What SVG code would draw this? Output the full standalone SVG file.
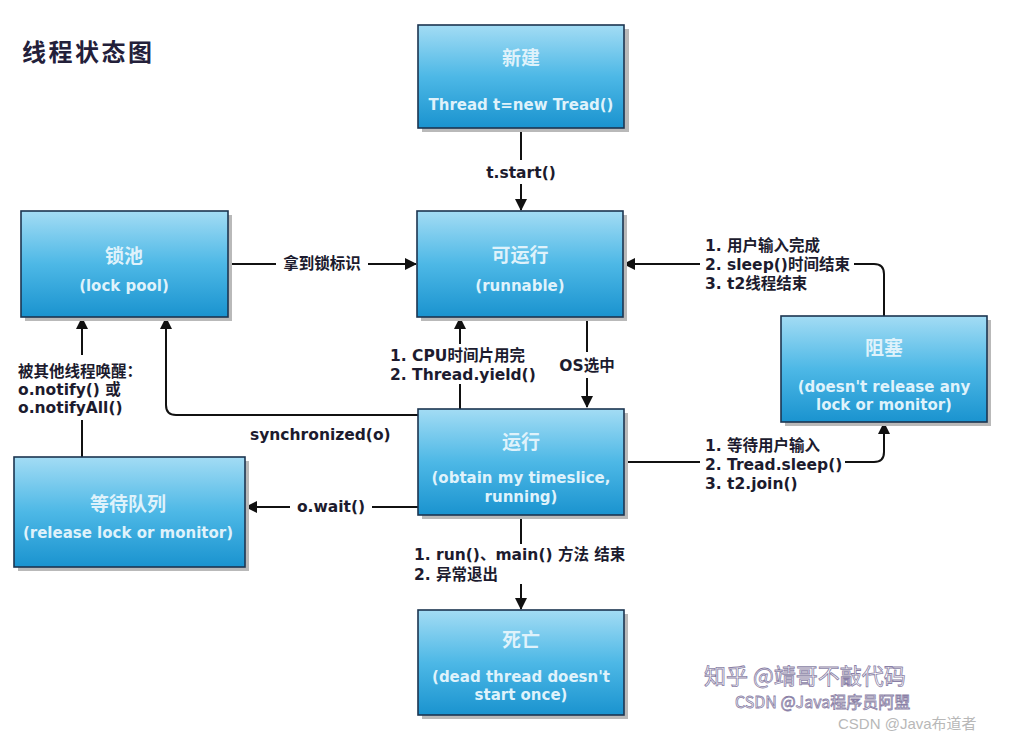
<svg xmlns="http://www.w3.org/2000/svg" width="1010" height="736" viewBox="0 0 1010 736">
<defs>
<linearGradient id="g" x1="0" y1="0" x2="0" y2="1">
<stop offset="0" stop-color="#a3dcf4"/>
<stop offset="0.5" stop-color="#4db8e6"/>
<stop offset="1" stop-color="#1a93cf"/>
</linearGradient>
<marker id="ah" viewBox="0 0 12 12" refX="11" refY="6" markerWidth="12" markerHeight="12" markerUnits="userSpaceOnUse" orient="auto">
<path d="M0,0 L12,6 L0,12 Z" fill="#111"/>
</marker>
</defs>
<style>
.box{fill:url(#g);stroke:#1c3550;stroke-width:1.6}
.sh{fill:#b9b9b9}
.nt{font-family:"DejaVu Sans","Noto Sans CJK SC",sans-serif;font-weight:bold;font-size:15px;fill:#dff2fb;text-anchor:middle}
.tt{font-size:19px}
.lb{font-family:"DejaVu Sans","Noto Sans CJK SC",sans-serif;font-weight:bold;font-size:15.5px;fill:#1c1b2e}
.ln{fill:none;stroke:#111;stroke-width:2}
.wm{font-family:"Noto Sans CJK SC",sans-serif;fill:none;stroke:#8a7fa6;stroke-width:0.8}
</style>
<rect width="1010" height="736" fill="#ffffff"/>
<text x="22" y="61" style="font-family:'Noto Sans CJK SC',sans-serif;font-weight:bold;font-size:24px;letter-spacing:2.5px;fill:#23203a">线程状态图</text>

<g id="connectors">
<!-- new -> runnable -->
<line class="ln" x1="521" y1="129" x2="521" y2="160"/>
<line class="ln" x1="521" y1="184" x2="521" y2="210" marker-end="url(#ah)"/>
<text class="lb" x="521" y="178" text-anchor="middle">t.start()</text>
<!-- lock pool -> runnable -->
<line class="ln" x1="229" y1="264" x2="276" y2="264"/>
<line class="ln" x1="368" y1="264" x2="416" y2="264" marker-end="url(#ah)"/>
<text class="lb" x="322" y="269" text-anchor="middle">拿到锁标识</text>
<!-- runnable -> running -->
<line class="ln" x1="587" y1="318" x2="587" y2="352"/>
<line class="ln" x1="587" y1="378" x2="587" y2="407" marker-end="url(#ah)"/>
<text class="lb" x="587" y="371" text-anchor="middle">OS选中</text>
<!-- running -> runnable -->
<line class="ln" x1="460" y1="409" x2="460" y2="384"/>
<line class="ln" x1="460" y1="344" x2="460" y2="318" marker-end="url(#ah)"/>
<text class="lb" x="390" y="361">1. CPU时间片用完</text>
<text class="lb" x="390" y="380">2. Thread.yield()</text>
<!-- running -> lock pool -->
<path class="ln" d="M418,415 L176,415 Q166,415 166,405 L166,318" marker-end="url(#ah)"/>
<text class="lb" x="250" y="440">synchronized(o)</text>
<!-- waiting -> lock pool -->
<line class="ln" x1="82" y1="457" x2="82" y2="420"/>
<line class="ln" x1="82" y1="355" x2="82" y2="318" marker-end="url(#ah)"/>
<text class="lb" x="18" y="377">被其他线程唤醒：</text>
<text class="lb" x="18" y="395">o.notify() 或</text>
<text class="lb" x="18" y="413">o.notifyAll()</text>
<!-- running -> waiting -->
<line class="ln" x1="418" y1="507" x2="372" y2="507"/>
<line class="ln" x1="290" y1="507" x2="246" y2="507" marker-end="url(#ah)"/>
<text class="lb" x="331" y="512" text-anchor="middle">o.wait()</text>
<!-- running -> blocked -->
<line class="ln" x1="625" y1="462" x2="700" y2="462"/>
<path class="ln" d="M845,462 L874,462 Q884,462 884,452 L884,423" marker-end="url(#ah)"/>
<text class="lb" x="705" y="451">1. 等待用户输入</text>
<text class="lb" x="705" y="470">2. Tread.sleep()</text>
<text class="lb" x="705" y="489">3. t2.join()</text>
<!-- blocked -> runnable -->
<path class="ln" d="M884,316 L884,274 Q884,264 874,264 L854,264"/>
<line class="ln" x1="700" y1="264" x2="624" y2="264" marker-end="url(#ah)"/>
<text class="lb" x="705" y="251">1. 用户输入完成</text>
<text class="lb" x="705" y="270">2. sleep()时间结束</text>
<text class="lb" x="705" y="289">3. t2线程结束</text>
<!-- running -> dead -->
<line class="ln" x1="521" y1="516" x2="521" y2="544"/>
<line class="ln" x1="521" y1="584" x2="521" y2="609" marker-end="url(#ah)"/>
<text class="lb" x="414" y="560">1. run()、main() 方法 结束</text>
<text class="lb" x="414" y="580">2. 异常退出</text>
</g>

<g id="node-new">
<rect class="sh" x="422" y="29" width="207" height="103"/>
<rect class="box" x="418" y="25" width="206" height="103"/>
<text class="nt tt" x="521" y="65">新建</text>
<text class="nt" x="521" y="110">Thread t=new Tread()</text>
</g>
<g id="node-lockpool">
<rect class="sh" x="25" y="215" width="207" height="106"/>
<rect class="box" x="21" y="211" width="207" height="106"/>
<text class="nt tt" x="124" y="263">锁池</text>
<text class="nt" x="124" y="291">(lock pool)</text>
</g>
<g id="node-runnable">
<rect class="sh" x="421" y="215" width="206" height="106"/>
<rect class="box" x="417" y="211" width="206" height="106"/>
<text class="nt tt" x="520" y="262">可运行</text>
<text class="nt" x="520" y="291">(runnable)</text>
</g>
<g id="node-blocked">
<rect class="sh" x="785" y="320" width="206" height="106"/>
<rect class="box" x="781" y="316" width="206" height="106"/>
<text class="nt tt" x="884" y="355">阻塞</text>
<text class="nt" x="884" y="392">(doesn't release any</text>
<text class="nt" x="884" y="410">lock or monitor)</text>
</g>
<g id="node-running">
<rect class="sh" x="422" y="413" width="206" height="106"/>
<rect class="box" x="418" y="409" width="206" height="106"/>
<text class="nt tt" x="521" y="449">运行</text>
<text class="nt" x="521" y="483">(obtain my timeslice,</text>
<text class="nt" x="521" y="502">running)</text>
</g>
<g id="node-waiting">
<rect class="sh" x="18" y="461" width="231" height="110"/>
<rect class="box" x="14" y="457" width="231" height="110"/>
<text class="nt tt" x="128" y="511">等待队列</text>
<text class="nt" x="128" y="538">(release lock or monitor)</text>
</g>
<g id="node-dead">
<rect class="sh" x="422" y="614" width="206" height="105"/>
<rect class="box" x="418" y="610" width="206" height="105"/>
<text class="nt tt" x="521" y="647">死亡</text>
<text class="nt" x="521" y="682">(dead thread doesn't</text>
<text class="nt" x="521" y="700">start once)</text>
</g>

<g id="watermarks">
<text class="wm" x="704" y="684" style="font-size:22px">知乎 @靖哥不敲代码</text>
<text class="wm" x="735" y="708" style="font-size:16px">CSDN @Java程序员阿盟</text>
<text x="838" y="729" style="font-family:'Liberation Sans','Noto Sans CJK SC',sans-serif;font-size:15px;fill:#b8b8b8">CSDN @Java布道者</text>
</g>
</svg>
